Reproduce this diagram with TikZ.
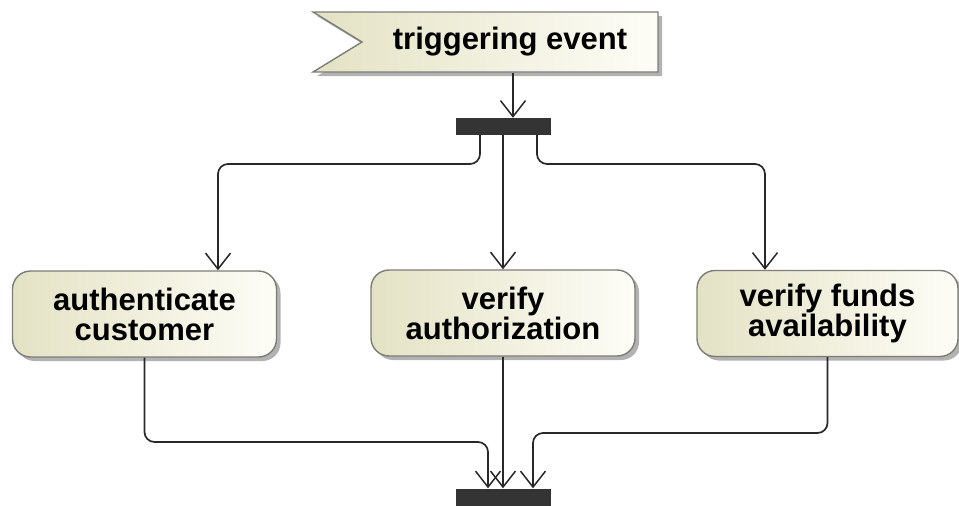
\documentclass[tikz,border=0pt]{standalone}
\usepackage{fontspec}
\setmainfont{Liberation Sans}
\usepackage{tikz}
\usetikzlibrary{arrows.meta,shapes.symbols,shadows,positioning}
\usepackage{xcolor}
\definecolor{beige}{RGB}{228,226,196}
\definecolor{paper}{RGB}{253,253,247}
\definecolor{edgegray}{RGB}{125,125,120}
\definecolor{bargray}{RGB}{52,52,52}
\definecolor{linegray}{RGB}{40,40,40}

\begin{document}
\begin{tikzpicture}[
  x=1pt, y=-1pt,
  flow/.style={draw=linegray, line width=1.7pt, rounded corners=10pt,
    -{Straight Barb[length=16pt,width=25pt,line width=1.5pt]}},
  action/.style={draw=edgegray, line width=1.4pt, rounded corners=18pt,
    left color=beige, right color=paper, align=center,
    minimum width=264pt, minimum height=86pt,
    drop shadow={shadow xshift=4pt, shadow yshift=-4pt, fill=black!30, opacity=1}},
  bar/.style={fill=bargray, draw=none, minimum width=95pt, minimum height=17pt, inner sep=0pt}
  ]
  \tikzstyle{every node}=[font=\fontsize{31}{30}\selectfont\bfseries]
  \useasboundingbox (0,0) rectangle (959,506);

  % incoming signal
  \node[signal, signal to=nowhere, signal from=west, signal pointer angle=63,
    draw=edgegray, line width=1.4pt, left color=beige, right color=paper,
    minimum width=345pt, minimum height=60pt, inner sep=0pt,
    drop shadow={shadow xshift=4pt, shadow yshift=-4pt, fill=black!30, opacity=1}]
    (event) at (510,42) {triggering event};

  % fork and join
  \node[bar] (fork) at (503,126.5) {};
  \node[bar] (join) at (503,497) {};

  % actions
  \node[action] (auth) at (144.5,314) {authenticate\\customer};
  \node[action] (authz) at (503,313) {verify\\authorization};
  \node[action, minimum width=261pt] (funds) at (827.5,313.5) {verify funds\\availability};

  \coordinate (top rail) at (0,164);
  \coordinate (left rail) at (0,442);
  \coordinate (right rail) at (0,433);
  \coordinate (auth in) at ([xshift=73.5pt]auth.north);
  \coordinate (funds in) at ([xshift=-62.5pt]funds.north);
  \coordinate (join left) at ([xshift=-15pt]join.north);
  \coordinate (join right) at ([xshift=30pt]join.north);

  \draw[flow] ([xshift=10pt]fork.north |- event.south) -- ([xshift=10pt]fork.north);
  \draw[flow] ([xshift=-23pt]fork.south) |- (auth in |- top rail) -- (auth in);
  \draw[flow] (fork.south) -- (authz.north);
  \draw[flow] ([xshift=34pt]fork.south) |- (funds in |- top rail) -- (funds in);

  \draw[flow] (auth.south) |- (join left |- left rail) -- (join left);
  \draw[flow] (authz.south) -- (join.north);
  \draw[flow] (funds.south) |- (join right |- right rail) -- (join right);
\end{tikzpicture}
\end{document}
